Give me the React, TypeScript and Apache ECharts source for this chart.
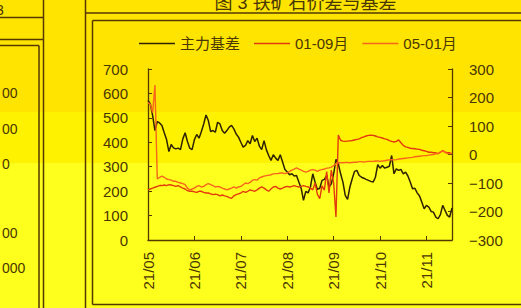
import React, { useEffect, useRef } from 'react';
import * as echarts from 'echarts';

const monthLabels = ['21/05', '21/06', '21/07', '21/08', '21/09', '21/10', '21/11'];
const pointsPerMonth = 20;
const legendNames = ['主力基差', '01-09月', '05-01月'];
const titleText = '图 3 铁矿石价差与基差';
const sideTexts = ['3', '00', '00', '0', '00', '000'];

// 主力基差 (left axis)
const basis = [
  571, 557, 509, 448, 485, 479, 469, 439, 411, 362, 391, 377, 373, 376, 370, 414, 439, 403, 376, 370,
  411, 432, 417, 444, 475, 512, 489, 444, 448, 441, 482, 475, 448, 437, 448, 462, 469, 455, 434, 421,
  400, 380, 387, 407, 394, 428, 403, 417, 384, 370, 407, 370, 346, 326, 349, 335, 326, 349, 319, 289,
  278, 267, 271, 262, 264, 237, 212, 162, 199, 193, 217, 271, 237, 207, 212, 244, 248, 264, 217, 230,
  271, 330, 312, 271, 237, 183, 166, 217, 251, 281, 285, 264, 257, 253, 248, 244, 240, 237, 257, 308,
  294, 305, 294, 298, 302, 346, 271, 291, 285, 289, 271, 278, 262, 237, 210, 212, 193, 180, 155, 128,
  142, 135, 117, 114, 94, 87, 104, 142, 121, 101, 94, 131,
];

// 01-09月 (right axis)
const spread0109 = [
  -124, -121, -118, -115, -112, -109, -109, -107, -109, -106, -107, -109, -112, -109, -114, -118, -121, -127, -129, -129,
  -131, -133, -129, -129, -133, -135, -135, -138, -141, -139, -141, -145, -142, -145, -147, -151, -154, -145, -141, -138,
  -135, -129, -133, -129, -124, -127, -129, -124, -118, -114, -118, -124, -129, -121, -114, -112, -118, -121, -118, -114,
  -112, -114, -112, -109, -112, -114, -112, -109, -112, -114, -118, -124, -100, -140, -155, -110, -125, -60, -135, -55,
  -100, -219, 68, 50, 47, 46, 47, 48, 49, 51, 53, 55, 59, 62, 65, 67, 68, 67, 65, 62,
  60, 58, 55, 53, 49, 46, 44, 46, 51, 41, 32, 27, 25, 22, 21, 20, 19, 18, 15, 13,
  11, 8, 8, 6, 6, 3, 8, 14, 8, 6, 6, 3,
];

// 05-01月 (right axis)
const spread0501 = [
  182, 176, 147, 244, -86, -80, -76, -80, -86, -88, -90, -94, -94, -98, -100, -102, -106, -118, -124, -121,
  -118, -112, -109, -114, -112, -106, -102, -106, -109, -114, -112, -114, -118, -121, -124, -121, -118, -114, -118, -114,
  -112, -106, -100, -102, -98, -90, -88, -90, -82, -79, -76, -74, -73, -71, -68, -67, -67, -65, -65, -67,
  -65, -59, -55, -51, -47, -51, -55, -59, -62, -59, -55, -53, -55, -59, -55, -53, -51, -48, -47, -44,
  -39, -32, -29, -29, -29, -28, -28, -29, -28, -27, -27, -25, -25, -27, -25, -24, -24, -24, -23, -23,
  -24, -23, -22, -20, -19, -18, -19, -18, -16, -15, -14, -13, -12, -11, -10, -8, -7, -6, -5, -4,
  -4, -2, -1, 0, 2, 3, 8, 12, 8, 3, 3, 3,
];

const FONT = "'Liberation Sans', 'Noto Sans CJK SC', sans-serif";
const TEXT = '#4a3600';
const FRAME = '#553800';
const C_BASIS = '#2e2200';
const C_0109 = '#E23A0C';
const C_0501 = '#F8661C';

export default function App() {
  const ref = useRef<HTMLDivElement>(null);
  useEffect(() => {
    document.body.style.margin = '0';
    const chart = echarts.init(ref.current!, null, { renderer: 'svg', width: 521, height: 308 });
    const days = basis.map((_, i) => String(i));
    const isMonthStart = (i: number) => i % pointsPerMonth === 0;

    const line = (x1: number, y1: number, x2: number, y2: number) => ({
      type: 'line',
      shape: { x1, y1, x2, y2 },
      style: { stroke: FRAME, lineWidth: 1.5 },
      z: 100,
    });
    const txt = (text: string, x: number, y: number, size = 14, align = 'left') => ({
      type: 'text',
      x,
      y,
      style: {
        text,
        fill: TEXT,
        fontSize: size,
        fontFamily: FONT,
        align,
        verticalAlign: 'middle',
        textAlign: align,
        textVerticalAlign: 'middle',
      },
      z: 100,
    });

    chart.setOption({
      animation: false,
      backgroundColor: 'transparent',
      textStyle: { fontFamily: FONT },
      grid: { left: 148, right: 69, top: 69, bottom: 68, containLabel: false },
      legend: {
        data: legendNames.map((name) => ({ name, icon: 'rect' })),
        left: 134,
        top: 31,
        itemWidth: 36,
        itemHeight: 1.6,
        itemGap: 14,
        textStyle: { fontSize: 15, color: TEXT, fontFamily: FONT },
      },
      xAxis: {
        type: 'category',
        data: days,
        boundaryGap: false,
        axisLine: { lineStyle: { color: FRAME, width: 1.3 } },
        axisTick: { inside: true, length: 4, interval: (i: number) => isMonthStart(i), lineStyle: { color: FRAME } },
        axisLabel: {
          interval: (i: number) => isMonthStart(i),
          formatter: (_v: string, i: number) => monthLabels[i / pointsPerMonth] ?? '',
          rotate: 90,
          margin: 12,
          fontSize: 15,
          color: TEXT,
          fontFamily: FONT,
        },
        splitLine: { show: false },
      },
      yAxis: [
        {
          type: 'value',
          min: 0,
          max: 700,
          interval: 100,
          axisLine: { show: true, lineStyle: { color: FRAME, width: 1.3 } },
          axisTick: { show: true, inside: true, length: 4, lineStyle: { color: FRAME } },
          axisLabel: { margin: 20, fontSize: 15, color: TEXT, fontFamily: FONT },
          splitLine: { show: false },
        },
        {
          type: 'value',
          position: 'right',
          min: -300,
          max: 300,
          interval: 100,
          axisLine: { show: true, lineStyle: { color: FRAME, width: 1.3 } },
          axisTick: { show: true, inside: true, length: 4, lineStyle: { color: FRAME } },
          axisLabel: {
            margin: 17,
            fontSize: 15,
            color: TEXT,
            fontFamily: FONT,
            formatter: (v: number) => (v < 0 ? '\u2212' + Math.abs(v) : String(v)),
          },
          splitLine: { show: false },
        },
      ],
      series: [
        {
          name: legendNames[0],
          type: 'line',
          data: basis,
          yAxisIndex: 0,
          symbol: 'none',
          lineStyle: { color: C_BASIS, width: 1.5 },
          itemStyle: { color: C_BASIS },
          z: 3,
        },
        {
          name: legendNames[1],
          type: 'line',
          data: spread0109,
          yAxisIndex: 1,
          symbol: 'none',
          lineStyle: { color: C_0109, width: 1.4 },
          itemStyle: { color: C_0109 },
          z: 4,
        },
        {
          name: legendNames[2],
          type: 'line',
          data: spread0501,
          yAxisIndex: 1,
          symbol: 'none',
          lineStyle: { color: C_0501, width: 1.4 },
          itemStyle: { color: C_0501 },
          z: 5,
        },
      ],
      graphic: [
        line(0, 17.5, 43, 17.5),
        line(0, 39.5, 43, 39.5),
        line(0, 45.5, 39, 45.5),
        line(39, 45.5, 39, 308),
        line(43.5, 0, 43.5, 308),
        line(85.5, 0, 85.5, 308),
        line(85.5, 13, 521, 13),
        line(92.5, 20.5, 521, 20.5),
        line(92.5, 20.5, 92.5, 304.5),
        line(92.5, 304.5, 521, 304.5),
        {
          type: 'text',
          x: 305.5,
          y: 12,
          style: {
            text: titleText,
            fill: TEXT,
            fontSize: 18,
            fontFamily: FONT,
            align: 'center',
            verticalAlign: 'bottom',
            textAlign: 'center',
            textVerticalAlign: 'bottom',
          },
          z: 100,
        },
        txt(sideTexts[0], -4, 10),
        txt(sideTexts[1], 2, 93),
        txt(sideTexts[2], 2, 128.5),
        txt(sideTexts[3], 2, 164),
        txt(sideTexts[4], 2, 232.5),
        txt(sideTexts[5], 2, 267.5),
      ],
    });
    return () => chart.dispose();
  }, []);
  return (
    <div
      ref={ref}
      style={{
        position: 'absolute',
        left: 0,
        top: 0,
        width: 521,
        height: 308,
        background:
          'linear-gradient(to bottom, #FFE400 0px, #FFE400 112px, #FFF200 112px, #FFF200 163px, #FFFF1E 163px, #FFFF1E 308px)',
      }}
    />
  );
}
